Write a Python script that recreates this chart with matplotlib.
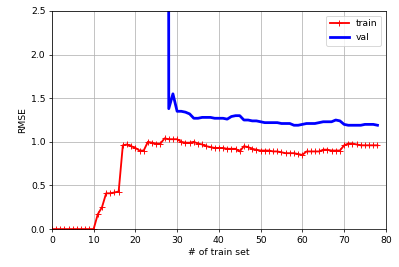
import matplotlib
matplotlib.use("Agg")
import matplotlib.pyplot as plt

# RMSE, index = number of training samples
train_rmse = [
    0.0, 0.0, 0.0, 0.0, 0.0, 0.0, 0.0, 0.0, 0.0, 0.0,
    0.0, 0.17, 0.25, 0.41, 0.41, 0.42, 0.43, 0.96, 0.97, 0.95,
    0.93, 0.90, 0.90, 1.00, 0.99, 0.98, 0.98, 1.04, 1.03, 1.03,
    1.03, 1.00, 0.99, 0.99, 1.00, 0.98, 0.97, 0.95, 0.94, 0.93,
    0.93, 0.93, 0.92, 0.92, 0.92, 0.89, 0.95, 0.94, 0.92, 0.91,
    0.90, 0.90, 0.90, 0.89, 0.89, 0.88, 0.87, 0.87, 0.87, 0.86,
    0.85, 0.89, 0.89, 0.89, 0.89, 0.91, 0.91, 0.90, 0.90, 0.90,
    0.96, 0.98, 0.98, 0.97, 0.96, 0.96, 0.96, 0.96, 0.96,
]
# validation error is far off the chart before 27 samples
val_x = list(range(27, 79))
val_rmse = [
    60.0, 1.38, 1.55, 1.35, 1.35, 1.34, 1.32, 1.27, 1.27, 1.28,
    1.28, 1.28, 1.27, 1.27, 1.27, 1.26, 1.29, 1.30, 1.30, 1.25,
    1.25, 1.24, 1.24, 1.23, 1.22, 1.22, 1.22, 1.22, 1.21, 1.21,
    1.21, 1.19, 1.19, 1.20, 1.21, 1.21, 1.21, 1.22, 1.23, 1.23,
    1.23, 1.25, 1.24, 1.20, 1.19, 1.19, 1.19, 1.19, 1.20, 1.20,
    1.20, 1.19,
]

fig = plt.figure(figsize=(6, 267 / 66.5), dpi=66.5)
ax = fig.add_subplot(111)
fig.subplots_adjust(left=0.130, right=0.967, bottom=0.142, top=0.959)

ax.plot(range(len(train_rmse)), train_rmse, "r-+", linewidth=2, label="train")
ax.plot(val_x, val_rmse, "b-", linewidth=3, label="val")

ax.set_xlim(0, 80)
ax.set_ylim(0, 2.5)
ax.set_xlabel("# of train set")
ax.set_ylabel("RMSE")
ax.grid(True)
ax.legend(loc="upper right")

fig.savefig("out.png", dpi=66.5, facecolor="white")
